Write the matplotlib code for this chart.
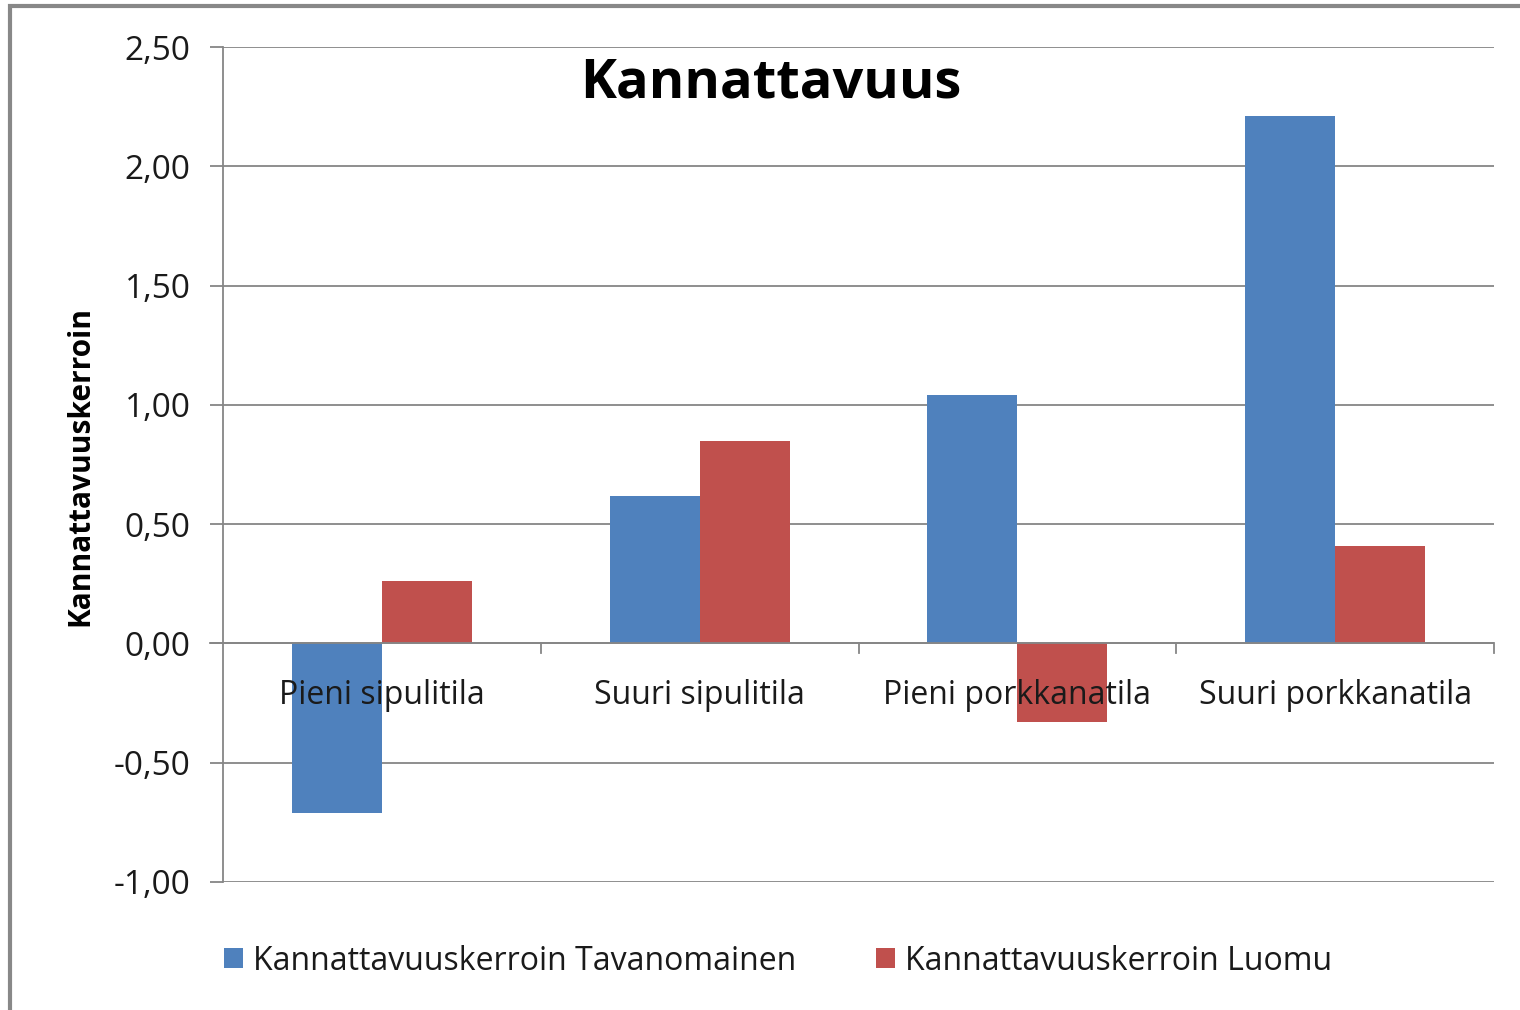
import matplotlib
matplotlib.use("Agg")
import matplotlib.pyplot as plt
from matplotlib.patches import Rectangle
from matplotlib.transforms import blended_transform_factory
import numpy as np

categories = ["Pieni sipulitila", "Suuri sipulitila", "Pieni porkkanatila", "Suuri porkkanatila"]
tavanomainen = [-0.71, 0.62, 1.04, 2.21]
luomu = [0.26, 0.85, -0.33, 0.41]
series_names = ["Kannattavuuskerroin Tavanomainen", "Kannattavuuskerroin Luomu"]
yticks = [-1.0, -0.5, 0.0, 0.5, 1.0, 1.5, 2.0, 2.5]
title = "Kannattavuus"
ylabel = "Kannattavuuskerroin"

plt.rcParams['font.family'] = ['Open Sans', 'DejaVu Sans']
W, H = 1520, 1010
fig = plt.figure(figsize=(W/100, H/100), dpi=100)

def fx(px): return px / W
def fy(py): return 1 - py / H

left, right, top, bottom = 223, 1494, 47, 882
ax = fig.add_axes([fx(left), fy(bottom), fx(right - left), (bottom - top) / H])

blue = "#4F81BD"
red = "#C0504D"
grid_c = "#868686"
txt_c = "#1a1a1a"
x = np.arange(len(categories))
bw = 0.283
ax.bar(x - bw/2, tavanomainen, width=bw, color=blue, label=series_names[0], zorder=2)
ax.bar(x + bw/2, luomu, width=bw, color=red, label=series_names[1], zorder=2)

ax.set_xlim(-0.5, len(categories) - 0.5)
ax.set_ylim(-1.0, 2.5)
ax.set_yticks(yticks)
ax.set_yticklabels([f"{v:.2f}".replace(".", ",") for v in yticks])
ax.yaxis.grid(True, color=grid_c, linewidth=1.3, zorder=0)
ax.set_axisbelow(True)
for s in ["top", "right", "bottom"]:
    ax.spines[s].set_visible(False)
ax.spines["left"].set_color(grid_c)
ax.spines["left"].set_linewidth(1.3)
ax.tick_params(axis="y", length=9.4, width=1.3, color=grid_c, labelsize=24, pad=14, labelcolor=txt_c)
ax.set_xticks([])

# zero axis line with category boundary ticks
ax.axhline(0, color=grid_c, linewidth=1.3, zorder=3)
for b in np.arange(0.5, len(categories), 1.0):
    ax.plot([b, b], [0, -0.04], color=grid_c, linewidth=1.3, zorder=3, clip_on=False)
ax.plot([-0.5 - 13/317.75, -0.5], [0, 0], color=grid_c, linewidth=1.3, clip_on=False)

# category labels
ctr = blended_transform_factory(ax.transData, fig.transFigure)
for i, c in enumerate(categories):
    ax.text(i, fy(696), c, transform=ctr, ha="center", va="center", fontsize=23, color=txt_c, zorder=4)

fig.text(fx(771), fy(83), title, ha="center", va="center", fontsize=39, fontweight="bold", color="black")
fig.text(fx(80), fy(466), ylabel, ha="center", va="center", rotation=90, fontsize=21.5, fontweight="bold", color="black")

leg = fig.legend(loc="center", bbox_to_anchor=(fx(778), fy(961)), ncol=2, frameon=False,
                 fontsize=23, handlelength=0.6, handleheight=0.6, handletextpad=0.3, columnspacing=2.5,
                 labelcolor=txt_c)

fig.patches.append(Rectangle((fx(10), fy(1100)), 2, fy(6) - fy(1100), transform=fig.transFigure,
                             fill=False, edgecolor="#888888", linewidth=3, zorder=10))

fig.savefig("out.png", dpi=100)
